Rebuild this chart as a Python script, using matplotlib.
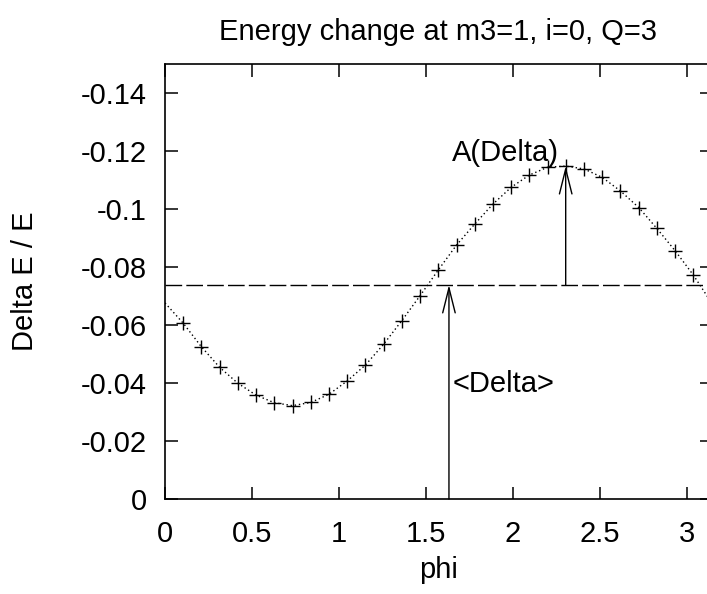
import matplotlib
matplotlib.use("Agg")
import matplotlib.pyplot as plt

plt.rcParams["font.family"] = ["Liberation Sans", "DejaVu Sans"]

# measured energy change (crosses), phi = k*pi/30
phi = [0.105, 0.209, 0.314, 0.419, 0.524, 0.628, 0.733, 0.838, 0.942, 1.047,
       1.152, 1.257, 1.361, 1.466, 1.571, 1.676, 1.780, 1.885, 1.990, 2.094,
       2.199, 2.304, 2.409, 2.513, 2.618, 2.723, 2.827, 2.932, 3.037]
delta = [-0.0606, -0.0525, -0.0454, -0.0399, -0.0358, -0.0332, -0.0322, -0.0333,
         -0.0361, -0.0407, -0.0462, -0.0534, -0.0615, -0.0701, -0.0790, -0.0876,
         -0.0948, -0.1017, -0.1075, -0.1117, -0.1144, -0.1148, -0.1138, -0.1109,
         -0.1062, -0.1005, -0.0933, -0.0856, -0.0772]

# fitted curve (dotted), read at the same phi plus both ends
fit_phi = [0.0] + phi + [3.1416]
fit_val = [-0.0676] + delta + [-0.0676]

mean_delta = -0.0738
phi_mean_arrow = 1.632
phi_peak = 2.303
peak_delta = -0.1148

fs = 21

fig = plt.figure(figsize=(7.07, 5.94), dpi=100)
ax = fig.add_axes([0.2334, 0.1599, 0.7731, 0.7324])

ax.plot(fit_phi, fit_val, color="black", lw=1.0, linestyle=(0, (1, 2)))
ax.plot(phi, delta, linestyle="none", marker="+", color="black",
        markersize=10, markeredgewidth=1.0)
ax.axhline(mean_delta, color="black", lw=1.0, dashes=(12, 3))

arrow = dict(arrowstyle="->,head_length=1.8,head_width=0.45", lw=1.0,
             color="black", shrinkA=0, shrinkB=0, mutation_scale=10)
ax.annotate("", xy=(phi_mean_arrow, mean_delta), xytext=(phi_mean_arrow, 0.0),
            arrowprops=arrow)
ax.annotate("", xy=(phi_peak, peak_delta), xytext=(phi_peak, mean_delta),
            arrowprops=arrow)
ax.text(1.648, -0.1193, "A(Delta)", fontsize=fs, va="center", ha="left")
ax.text(1.655, -0.0397, "<Delta>", fontsize=fs, va="center", ha="left")

ax.set_xlim(0, 3.1416)
ax.set_ylim(0, -0.15)
ax.set_xticks([0, 0.5, 1, 1.5, 2, 2.5, 3])
ax.set_xticklabels(["0", "0.5", "1", "1.5", "2", "2.5", "3"])
ax.set_yticks([0, -0.02, -0.04, -0.06, -0.08, -0.1, -0.12, -0.14])
ax.set_yticklabels(["0", "-0.02", "-0.04", "-0.06", "-0.08", "-0.1", "-0.12", "-0.14"])
ax.tick_params(direction="in", length=9, width=1.1, labelsize=fs,
               top=True, right=True)
ax.tick_params(axis="x", pad=15)
ax.tick_params(axis="y", pad=13)
for s in ax.spines.values():
    s.set_linewidth(1.2)

ax.set_xlabel("phi", fontsize=fs, labelpad=6)
ax.set_ylabel("Delta E / E", fontsize=fs, labelpad=30)
ax.set_title("Energy change at m3=1, i=0, Q=3", fontsize=fs, pad=17)

fig.savefig("out.png", dpi=100)
